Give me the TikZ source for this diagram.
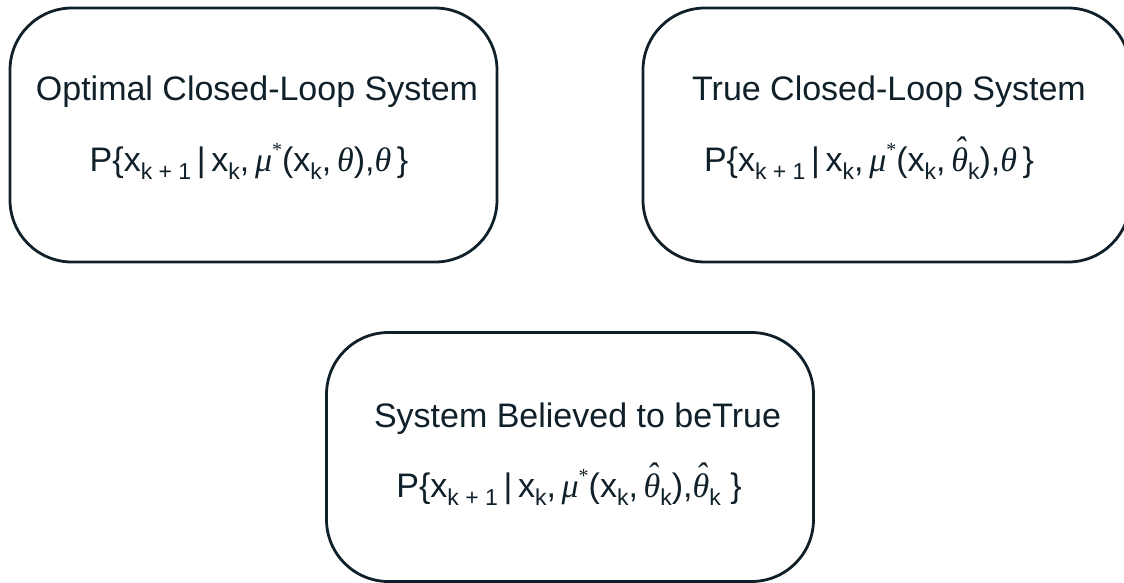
\documentclass[tikz,border=0pt]{standalone}
\usepackage{fontspec}
\setmainfont{Liberation Sans}
\newfontfamily\serf{Liberation Serif}
\definecolor{ink}{RGB}{16,32,42}
\newcommand{\sbs}[1]{\raisebox{-0.24em}{\fontsize{23}{23}\selectfont #1}}
\newcommand{\mus}{{\serf\itshape μ}\raisebox{0.42em}{\fontsize{20}{20}\selectfont\serf *}}
\newcommand{\thh}{{\serf\itshape θ}}
\newcommand{\hth}{\ooalign{{\serf\itshape θ}\cr\hidewidth\raisebox{0.30em}{\serf\itshape ˆ}\hidewidth\cr}}
\begin{document}
\begin{tikzpicture}[x=1pt,y=-1pt,
  sysbox/.style={draw=ink,line width=2.8pt,rounded corners=62pt,minimum width=487pt,minimum height=254pt,inner sep=0pt},
  label/.style={anchor=base,text=ink,inner sep=0pt,font=\fontsize{34}{40}\selectfont}]
\useasboundingbox (0,0) rectangle (1124,582);
\node[sysbox] (opt) at (253.5,135) {};
\node[sysbox] (true) at (886.5,135) {};
\node[sysbox,minimum height=249pt] (bel) at (570,457) {};
\node[label] (optT) at (257,100) {Optimal Closed-Loop System};
\node[label] (optF) at (249,171) {P\{x\sbs{k + 1}\,|\,x\sbs{k},\,\mus(x\sbs{k},\,\thh),\thh\,\}};
\node[label] (trueT) at (889,100) {True Closed-Loop System};
\node[label] (trueF) at (869,171) {P\{x\sbs{k + 1}\,|\,x\sbs{k},\,\mus(x\sbs{k},\,\hth\sbs{k}),\thh\,\}};
\node[label] (belT) at (577.5,427) {System Believed to beTrue};
\node[label] (belF) at (569,497) {P\{x\sbs{k + 1}\,|\,x\sbs{k},\,\mus(x\sbs{k},\,\hth\sbs{k}),\hth\sbs{k}\ \}};
\end{tikzpicture}
\end{document}
